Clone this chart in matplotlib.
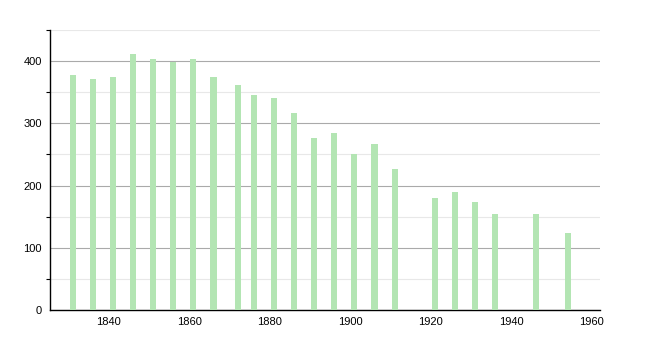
import matplotlib
matplotlib.use("Agg")
import matplotlib.pyplot as plt
from matplotlib.ticker import MultipleLocator

years = [1831, 1836, 1841, 1846, 1851, 1856, 1861, 1866, 1872, 1876, 1881, 1886,
         1891, 1896, 1901, 1906, 1911, 1921, 1926, 1931, 1936, 1946, 1954]
population = [377, 371, 375, 411, 403, 399, 403, 374, 362, 345, 340, 317,
              277, 285, 250, 267, 227, 180, 190, 173, 154, 154, 124]

plt.rcParams["font.family"] = ["Liberation Sans", "DejaVu Sans"]

fig = plt.figure(figsize=(6.5, 3.4), dpi=100)
ax = fig.add_axes([0.077, 0.088, 0.846, 0.824])

ax.bar(years, population, width=1.5, color="#b3e5b3", zorder=3)

ax.set_xlim(1825.4, 1962)
ax.set_ylim(0, 450)
ax.set_xticks([1840, 1860, 1880, 1900, 1920, 1940, 1960])
ax.yaxis.set_major_locator(MultipleLocator(100))
ax.yaxis.set_minor_locator(MultipleLocator(50))
ax.grid(axis="y", which="major", color="#aaaaaa", lw=0.8, zorder=0)
ax.grid(axis="y", which="minor", color="#e8e8e8", lw=0.8, zorder=0)

for s in ("top", "right"):
    ax.spines[s].set_visible(False)
ax.spines["left"].set_linewidth(1)
ax.spines["bottom"].set_linewidth(1)
ax.tick_params(axis="x", length=0, labelsize=8, pad=5)
ax.tick_params(axis="y", which="major", length=0, labelsize=8, pad=6)
ax.tick_params(axis="y", which="minor", length=3, width=0.8)

fig.savefig("out.png", dpi=100)
